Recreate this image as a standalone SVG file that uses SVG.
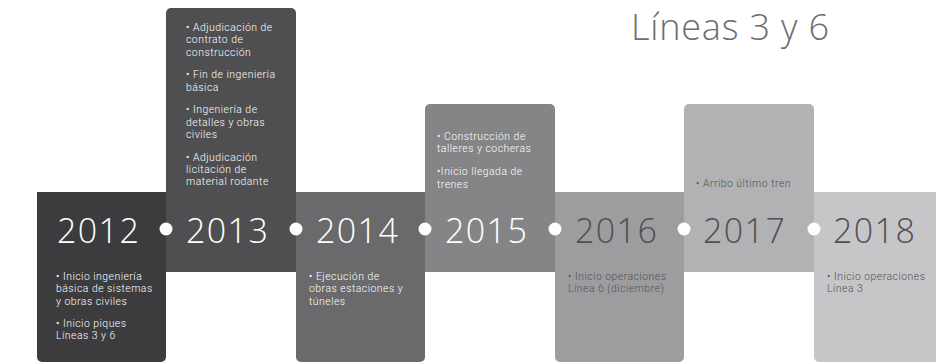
<svg xmlns="http://www.w3.org/2000/svg" width="936" height="364" viewBox="0 0 936 364">
<style>
  text { font-family: "Open Sans", "Liberation Sans", sans-serif; font-weight: 300; }
  .yr { font-size: 34px; letter-spacing: 1.4px; }
  .tx { font-family: Roboto, "Liberation Sans", Arial, sans-serif; font-weight: 300; font-size: 10.4px; letter-spacing: 0.5px; }
  .lt { fill: #ffffff; }
  .dk { fill: #505052; }
  .dot { fill: #ffffff; }
  .title { font-size: 36px; fill: #6d6d6f; letter-spacing: 0.8px; }
</style>
<rect width="936" height="364" fill="#ffffff"/>
<text class="title" x="631" y="40">Líneas 3 y 6</text>

<g id="y2012">
  <path d="M37 192 H166 V357 A5 5 0 0 1 161 362 H42 A5 5 0 0 1 37 357 Z" fill="#3c3c3e"/>
  <text class="yr lt" x="57" y="243">2012</text>
  <text class="tx lt"><tspan x="56" y="280">• Inicio ingeniería</tspan><tspan x="56" y="292.3">básica de sistemas</tspan><tspan x="56" y="304.6">y obras civiles</tspan><tspan x="56" y="327.1">• Inicio piques</tspan><tspan x="56" y="339.4">Líneas 3 y 6</tspan></text>
</g>

<g id="y2013">
  <path d="M166 272 V13 A5 5 0 0 1 171 8 H291 A5 5 0 0 1 296 13 V272 Z" fill="#4f4f51"/>
  <text class="yr lt" x="186" y="243">2013</text>
  <text class="tx lt"><tspan x="186" y="31">• Adjudicación de</tspan><tspan x="186" y="43.3">contrato de</tspan><tspan x="186" y="55.6">construcción</tspan><tspan x="186" y="78.3">• Fin de ingeniería</tspan><tspan x="186" y="90.6">básica</tspan><tspan x="186" y="113.3">• Ingeniería de</tspan><tspan x="186" y="125.6">detalles y obras</tspan><tspan x="186" y="137.9">civiles</tspan><tspan x="186" y="160.6">• Adjudicación</tspan><tspan x="186" y="172.9">licitación de</tspan><tspan x="186" y="185.2">material rodante</tspan></text>
</g>

<g id="y2014">
  <path d="M296 192 H425 V357 A5 5 0 0 1 420 362 H301 A5 5 0 0 1 296 357 Z" fill="#6a6a6c"/>
  <text class="yr lt" x="316" y="243">2014</text>
  <text class="tx lt"><tspan x="309" y="280">• Ejecución de</tspan><tspan x="309" y="292.3">obras estaciones y</tspan><tspan x="309" y="304.6">túneles</tspan></text>
</g>

<g id="y2015">
  <path d="M425 272 V109 A5 5 0 0 1 430 104 H550 A5 5 0 0 1 555 109 V272 Z" fill="#858587"/>
  <text class="yr lt" x="445" y="243">2015</text>
  <text class="tx lt"><tspan x="437" y="140">• Construcción de</tspan><tspan x="437" y="152.3">talleres y cocheras</tspan><tspan x="437" y="175.3">•Inicio llegada de</tspan><tspan x="437" y="187.6">trenes</tspan></text>
</g>

<g id="y2016">
  <path d="M555 192 H684 V357 A5 5 0 0 1 679 362 H560 A5 5 0 0 1 555 357 Z" fill="#9d9d9f"/>
  <text class="yr dk" x="575" y="243">2016</text>
  <text class="tx dk"><tspan x="568" y="280">• Inicio operaciones</tspan><tspan x="568" y="292.3">Línea 6 (diciembre)</tspan></text>
</g>

<g id="y2017">
  <path d="M684 272 V109 A5 5 0 0 1 689 104 H809 A5 5 0 0 1 814 109 V272 Z" fill="#b2b2b4"/>
  <text class="yr dk" x="703" y="243">2017</text>
  <text class="tx dk"><tspan x="696" y="186.5">• Arribo último tren</tspan></text>
</g>

<g id="y2018">
  <path d="M814 192 H940 V362 H819 A5 5 0 0 1 814 357 Z" fill="#c6c6c8"/>
  <text class="yr dk" x="833" y="243">2018</text>
  <text class="tx dk"><tspan x="827" y="280">• Inicio operaciones</tspan><tspan x="827" y="292.3">Línea 3</tspan></text>
</g>

<g id="connectors">
  <circle class="dot" cx="166" cy="229" r="6.5"/>
  <circle class="dot" cx="296" cy="229" r="6.5"/>
  <circle class="dot" cx="425" cy="229" r="6.5"/>
  <circle class="dot" cx="555" cy="229" r="6.5"/>
  <circle class="dot" cx="684" cy="229" r="6.5"/>
  <circle class="dot" cx="814" cy="229" r="6.5"/>
</g>
</svg>
